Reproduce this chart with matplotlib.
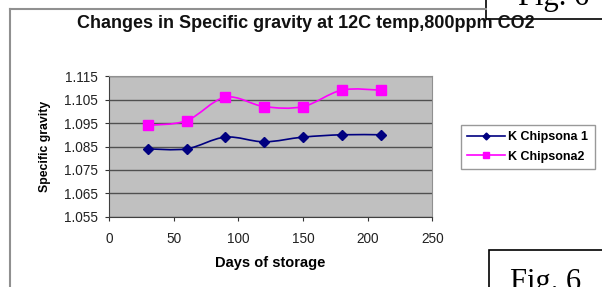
import numpy as np
import matplotlib
matplotlib.use("Agg")
import matplotlib.pyplot as plt
from matplotlib.path import Path
from matplotlib.patches import PathPatch, Rectangle
from matplotlib.lines import Line2D

dias = [30, 60, 90, 120, 150, 180, 210]
chipsona1 = [1.084, 1.084, 1.089, 1.087, 1.089, 1.090, 1.090]
chipsona2 = [1.094, 1.096, 1.106, 1.102, 1.102, 1.109, 1.109]
nomes = ["K Chipsona 1", "K Chipsona2"]
yticks = [1.055, 1.065, 1.075, 1.085, 1.095, 1.105, 1.115]
xticks = [0, 50, 100, 150, 200, 250]

plt.rcParams['font.family'] = ['Liberation Sans', 'DejaVu Sans']


def curva_suave(ax, x, y, cor):
    # linha suavizada tipo Excel (Catmull-Rom -> Bezier)
    x = np.asarray(x, float)
    y = np.asarray(y, float)
    pts = np.column_stack((x, y))
    verts = [pts[0]]
    codes = [Path.MOVETO]
    n = len(pts)
    for i in range(n - 1):
        p0 = pts[i - 1] if i > 0 else pts[i]
        p1 = pts[i]
        p2 = pts[i + 1]
        p3 = pts[i + 2] if i + 2 < n else pts[i + 1]
        c1 = p1 + (p2 - p0) / 6.0
        c2 = p2 - (p3 - p1) / 6.0
        verts += [c1, c2, p2]
        codes += [Path.CURVE4] * 3
    ax.add_patch(PathPatch(Path(verts, codes), facecolor='none', edgecolor=cor, lw=1.2, zorder=3))


fig = plt.figure(figsize=(6.02, 2.87), dpi=100)
ax = fig.add_axes([0.181, 0.244, 0.537, 0.491])
ax.set_facecolor('#c0c0c0')

curva_suave(ax, dias, chipsona1, '#000080')
curva_suave(ax, dias, chipsona2, '#ff00ff')
ax.plot(dias, chipsona1, linestyle='none', marker='D', ms=5, color='#000080', zorder=4)
ax.plot(dias, chipsona2, linestyle='none', marker='s', ms=6.5, color='#ff00ff', zorder=4)

ax.set_xlim(0, 250)
ax.set_ylim(1.055, 1.115)
ax.set_xticks(xticks)
ax.set_yticks(yticks)
ax.set_yticklabels([f"{v:.3f}" for v in yticks])
ax.tick_params(labelsize=9.8, length=3, direction='out', colors='#333333', labelcolor='#222222')
ax.tick_params(axis='x', pad=8)
ax.tick_params(axis='y', pad=5)
ax.grid(axis='y', color='#505050', lw=1.0)
ax.set_axisbelow(True)
for lado in ['top', 'right']:
    ax.spines[lado].set_color('#909090')
for lado in ['left', 'bottom']:
    ax.spines[lado].set_color('#404040')

ax.set_xlabel('Days of storage', fontsize=10.5, fontweight='bold', labelpad=7)
ax.set_ylabel('Specific gravity', fontsize=8.8, fontweight='bold', labelpad=9)
fig.text(0.508, 0.918, 'Changes in Specific gravity at 12C temp,800ppm CO2',
         fontsize=13, fontweight='bold', ha='center', va='center', color='#111111')

handles = [Line2D([], [], color='#000080', marker='D', ms=3.5, lw=1.2),
           Line2D([], [], color='#ff00ff', marker='s', ms=4.5, lw=1.2)]
leg = fig.legend(handles, nomes, loc='upper left', bbox_to_anchor=(461 / 602, 1 - 125 / 287),
                 borderaxespad=0, fontsize=9, frameon=True, fancybox=False, handlelength=3,
                 borderpad=0.5, labelspacing=0.6, handletextpad=0.3)
leg.get_frame().set_edgecolor('#808080')
leg.get_frame().set_linewidth(1.0)
for t in leg.get_texts():
    t.set_fontweight('bold')

# moldura do grafico
fig.add_artist(Line2D([10 / 602, 10 / 602], [0, 1 - 9 / 287], color='#909090', lw=1.5))
fig.add_artist(Line2D([10 / 602, 486 / 602], [1 - 9 / 287, 1 - 9 / 287], color='#909090', lw=1.5))

# caixas "Fig. 6"
fig.add_artist(Rectangle((486 / 602, 1 - 19 / 287), 0.3, 0.2, facecolor='white',
                         edgecolor='black', lw=1.2))
fig.text(518 / 602, 1 - 5 / 287, 'Fig. 6', fontsize=22, family='Liberation Serif', va='baseline')
fig.add_artist(Rectangle((489 / 602, -0.1), 0.3, 0.1 + 37 / 287, facecolor='white',
                         edgecolor='black', lw=1.2))
fig.text(510 / 602, 1 - 290 / 287, 'Fig. 6', fontsize=22, family='Liberation Serif', va='baseline')

fig.savefig('out.png', dpi=100)
